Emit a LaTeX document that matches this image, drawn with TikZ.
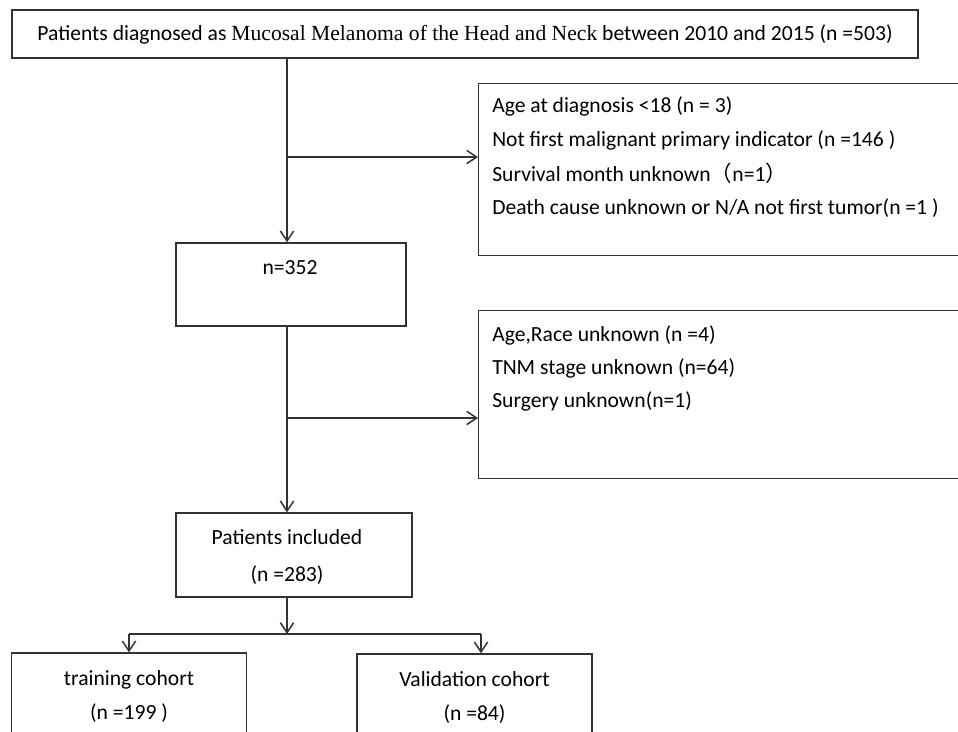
\documentclass[tikz,border=0pt]{standalone}
\usepackage{fontspec}
\setmainfont{Carlito}
\newfontfamily\tnr{Liberation Serif}
\newfontfamily\cjk{Noto Sans CJK SC}
\usetikzlibrary{arrows.meta}

\begin{document}
\begin{tikzpicture}[x=0.75pt,y=-0.75pt]

\def\pxu{0.75pt}
\def\col{287}

\tikzstyle{box}=[rectangle,draw=black!80,line width=1.1pt,inner sep=0pt]
\tikzstyle{line}=[draw=black!80,line width=1.1pt]
\tikzstyle{arrow}=[line,-{Straight Barb[length=7.5pt,width=10pt]}]
\tikzstyle{txt}=[inner sep=0pt,font=\fontsize{16.2}{19}\selectfont]
\tikzstyle{twoline}=[txt,align=center,font=\fontsize{16.2}{25}\selectfont]

\useasboundingbox (0,0) rectangle (958,732);
\clip (0,0) rectangle (958,732);

%all patients
\node[box,txt,minimum width=906*\pxu,minimum height=48*\pxu] (all) at (465,34) {Patients diagnosed as {\tnr Mucosal Melanoma of the Head and Neck} between 2010 and 2015 (n =503)};

%first exclusion
\node[box,minimum width=502*\pxu,minimum height=172*\pxu,anchor=north west] (ex1) at (478,83) {};
\node[txt,anchor=west] (ex1a) at (492,106) {Age at diagnosis <18 (n = 3)};
\node[txt,anchor=west] (ex1b) at (492,140) {Not first malignant primary indicator (n =146 )};
\node[txt,anchor=west] (ex1c) at (492,173) {Survival month unknown{\cjk （}n=1{\cjk ）}};
\node[txt,anchor=west] (ex1d) at (492,208) {Death cause unknown or N/A not first tumor(n =1 )};

%after first exclusion
\node[box,minimum width=230*\pxu,minimum height=83*\pxu] (n352) at (291,284.5) {};
\node[txt] (n352txt) at (290,268) {n=352};

%second exclusion
\node[box,minimum width=502*\pxu,minimum height=168*\pxu,anchor=north west] (ex2) at (478,310) {};
\node[txt,anchor=west] (ex2a) at (492,335) {Age,Race unknown (n =4)};
\node[txt,anchor=west] (ex2b) at (492,368) {TNM stage unknown (n=64)};
\node[txt,anchor=west] (ex2c) at (492,401) {Surgery unknown(n=1)};

%included
\node[box,minimum width=236*\pxu,minimum height=84*\pxu] (inc) at (294,555) {};
\node[twoline,font=\fontsize{16.2}{27.5}\selectfont] (inctxt) at (287,557) {Patients included\\(n =283)};

%cohorts
\node[box,twoline,minimum width=235*\pxu,minimum height=87*\pxu] (train) at (129,696.5) {training cohort\\(n =199 )};
\node[box,twoline,minimum width=235*\pxu,minimum height=87*\pxu] (val) at (474.5,697.5) {Validation cohort\\(n =84)};

%connections
\coordinate (b1) at (\col,157);
\coordinate (b2) at (\col,418);
\coordinate (split) at (\col,634);
\coordinate (tl) at (129,634);
\coordinate (vl) at (481,634);

\draw[arrow] (all.south -| b1) -- (n352.north -| b1);
\draw[arrow] (b1) -- (b1 -| ex1.west);
\draw[arrow] (n352.south -| b2) -- (inc.north -| b2);
\draw[arrow] (b2) -- (b2 -| ex2.west);
\draw[arrow] (inc.south -| split) -- (split);
\draw[line] (tl) -- (vl);
\draw[arrow] (tl) -- (train.north);
\draw[arrow] (vl) -- (vl |- val.north);

\end{tikzpicture}
\end{document}
